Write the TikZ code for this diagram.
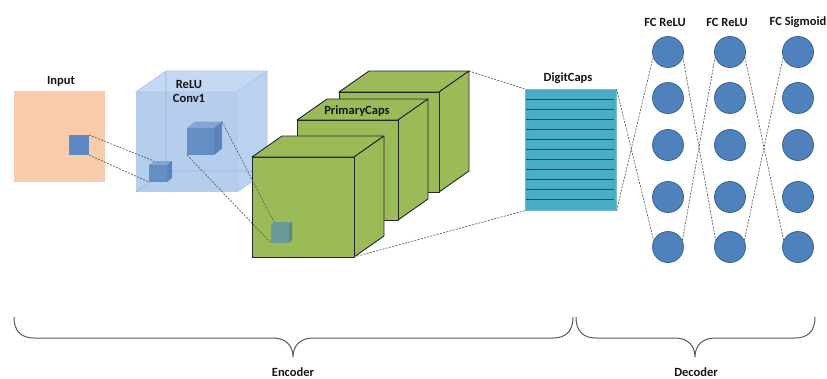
\documentclass[tikz,border=0pt]{standalone}
\usepackage{fontspec}
\setmainfont{Carlito}
\definecolor{peach}{RGB}{248,203,173}
\definecolor{inblue}{RGB}{94,138,196}
\definecolor{cvfront}{RGB}{168,198,235}
\definecolor{cvtop}{RGB}{190,212,240}
\definecolor{cvright}{RGB}{178,204,238}
\definecolor{cvedge}{RGB}{150,185,228}
\definecolor{scfront}{RGB}{86,132,190}
\definecolor{sctop}{RGB}{120,160,210}
\definecolor{scright}{RGB}{75,118,175}
\definecolor{pgreen}{RGB}{155,187,89}
\definecolor{gsmall}{RGB}{96,146,170}
\definecolor{dcfill}{RGB}{75,172,198}
\definecolor{dcline}{RGB}{35,75,90}
\definecolor{nfill}{RGB}{79,129,189}
\definecolor{nedge}{RGB}{56,98,150}
\definecolor{lbl}{RGB}{20,20,20}
\newcommand{\mygreencube}[4]{% x y w name
  \filldraw[gface] (#1,#2) -- ++(30,-21) -- ++(#3,0) -- ++(-30,21) -- cycle;
  \filldraw[gface] (#1+#3,#2) -- ++(30,-21) -- ++(0,100) -- ++(-30,21) -- cycle;
  \filldraw[gface] (#1,#2) rectangle ++(#3,100);
  \coordinate (#4-tbr) at (#1+#3+30,#2-21);
  \coordinate (#4-fbr) at (#1+#3,#2+100);
}
\newcommand{\mysmallcube}[6]{% x y w h depth name
  \fill[sctop,opacity=0.85] (#1,#2) -- ++(#5,-#5*0.8) -- ++(#3,0) -- ++(-#5,#5*0.8) -- cycle;
  \fill[scright,opacity=0.85] (#1+#3,#2) -- ++(#5,-#5*0.8) -- ++(0,#4) -- ++(-#5,#5*0.8) -- cycle;
  \fill[scfront,opacity=0.85] (#1,#2) rectangle ++(#3,#4);
  \coordinate (#6-btl) at (#1+#5,#2-#5*0.8);
  \coordinate (#6-btr) at (#1+#3+#5,#2-#5*0.8);
  \coordinate (#6-fbl) at (#1,#2+#4);
}
\tikzset{
  lab/.style={font=\fontsize{12.5}{14}\selectfont\bfseries, text=lbl, inner sep=0pt},
  gface/.style={fill=pgreen, draw=black!85, line width=0.9pt, line join=round},
  conn/.style={draw=gray!75!black, line width=0.7pt, dash pattern=on 2pt off 1.3pt},
  neuron/.style={circle, fill=nfill, draw=nedge, line width=0.8pt, minimum size=31pt, inner sep=0pt},
  brace/.style={draw=gray!70!black, line width=1pt},
}
\begin{document}
\begin{tikzpicture}[x=1pt,y=-1pt]
\useasboundingbox (0,0) rectangle (827,378);
% Input
\fill[peach] (14,91) rectangle (105,182);
\fill[inblue] (69,135) rectangle (89,155);
\coordinate (in-tr) at (89,135);
\coordinate (in-br) at (89,155);
\node[lab] (input) at (61,81) {Input};
% Conv1 transparent cube
\fill[cvtop,opacity=0.9] (136,92) -- (166,71) -- (267,71) -- (237,92) -- cycle;
\fill[cvright,opacity=0.9] (237,92) -- (267,71) -- (267,171) -- (237,192) -- cycle;
\fill[cvfront,opacity=0.85] (136,92) rectangle (237,192);
\draw[cvedge,line width=0.8pt] (166,71) -- (166,171) -- (267,171) (166,171) -- (136,192);
\draw[cvedge!80!white,line width=0.8pt] (136,92) -- (166,71) -- (267,71) -- (237,92) -- cycle (237,92) -- (237,192) (267,71) -- (267,171) -- (237,192);
\mysmallcube{149}{165}{18}{17}{5}{sa}
\mysmallcube{187}{128}{27}{27}{8}{sb}
\node[lab] (relu) at (189,84) {ReLU};
\node[lab] (conv) at (189,98) {Conv1};
% Input -> conv1 small cube
\draw[conn] (in-tr) -- (sa-btl);
\draw[conn] (in-br) -- (sa-fbl);
% PrimaryCaps cubes
\mygreencube{339}{92}{100}{pc3}
\mygreencube{297}{120}{101}{pc2}
\mygreencube{252}{157}{102}{pc1}
\node[lab] (pcaps) at (357,111) {PrimaryCaps};
\fill[gsmall,opacity=0.8] (271,225) -- ++(3,-3) -- ++(18,0) -- ++(-3,3) -- cycle;
\fill[gsmall!85!black,opacity=0.8] (289,225) -- ++(3,-3) -- ++(0,18) -- ++(-3,3) -- cycle;
\fill[gsmall,opacity=0.8] (271,225) rectangle (289,243);
\coordinate (gs-btl) at (274,222);
\coordinate (gs-fbl) at (271,243);
\draw[conn] (sb-btr) -- (gs-btl);
\draw[conn] (sb-fbl) -- (gs-fbl);
% DigitCaps
\node[lab] (dclab) at (568,78) {DigitCaps};
\node[fill=dcfill, draw=dcfill!80!white, line width=0.6pt, minimum width=91pt, minimum height=121pt, inner sep=0pt, anchor=north west] (dc) at (525,89) {};
\foreach \k in {1,...,11} {
  \draw[dcline, line width=1.1pt] (526,{89+\k*121/12}) -- (614,{89+\k*121/12});
}
\draw[conn] (pc3-tbr) -- (dc.north west);
\draw[conn] (pc1-fbr) -- (dc.south west);
% Decoder neurons
\foreach \c/\x in {1/668,2/730,3/798} {
  \foreach \r/\y in {1/52,2/98,3/145,4/197,5/247} {
    \node[neuron] (n\c\r) at (\x,\y) {};
  }
}
\node[lab] (fc1) at (665,22) {FC ReLU};
\node[lab] (fc2) at (727,22) {FC ReLU};
\node[lab] (fc3) at (798,22) {FC Sigmoid};
\draw[conn] (dc.north east) -- (n15.155);
\draw[conn] (dc.south east) -- (n11.200);
\draw[conn] (n11.340) -- (n25.155);
\draw[conn] (n15.25) -- (n21.200);
\draw[conn] (n21.340) -- (n35.155);
\draw[conn] (n25.25) -- (n31.200);
% Braces
\draw[brace] (14,317) .. controls (14,332) and (22,338) .. (34,338) -- (273,338)
  .. controls (285,338) and (293,345) .. (293,357)
  .. controls (293,345) and (301,338) .. (313,338) -- (553,338)
  .. controls (565,338) and (573,332) .. (573,317);
\draw[brace] (576,317) .. controls (576,332) and (584,338) .. (596,338) -- (675,338)
  .. controls (687,338) and (695,345) .. (695,357)
  .. controls (695,345) and (703,338) .. (715,338) -- (795,338)
  .. controls (807,338) and (815,332) .. (815,317);
\node[lab] (enc) at (293,372) {Encoder};
\node[lab] (dec) at (696,372) {Decoder};
\end{tikzpicture}
\end{document}
